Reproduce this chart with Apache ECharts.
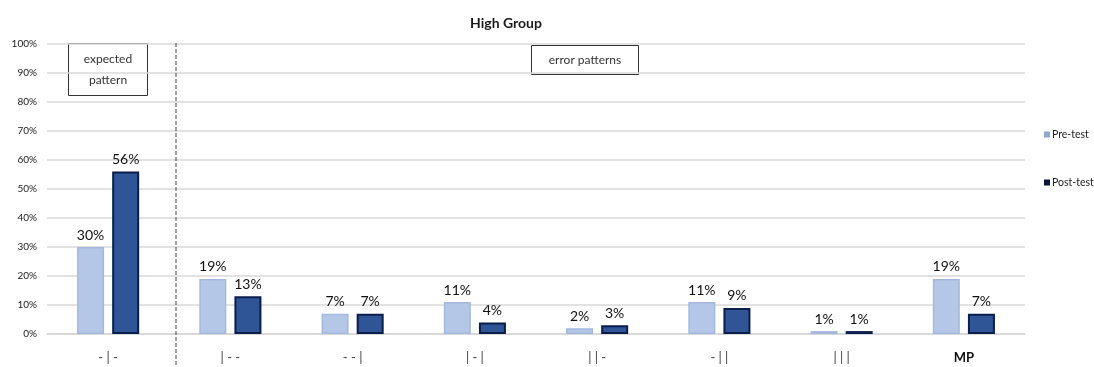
<!DOCTYPE html>
<html>
<head>
<meta charset="utf-8">
<script src="https://cdn.jsdelivr.net/npm/echarts@6/dist/echarts.min.js"></script>
<style>
  html, body { margin: 0; padding: 0; background: #fff; }
  #chart { width: 1094px; height: 367px; }
</style>
</head>
<body>
<div id="chart"></div>
<script>
// Answer patterns on the x axis; the first is the expected one
const categories = ['- | -', '| - -', '- - |', '| - |', '| | -', '- | |', '| | |', 'MP'];
// Share of answers per pattern, in percent
const preTest = [30, 19, 7, 11, 2, 11, 1, 19];
const postTest = [56, 13, 7, 4, 3, 9, 1, 7];
// Y axis ticks (percent)
const yMin = 0, yMax = 100, yStep = 10;

const FONT = 'Lato, "Open Sans", sans-serif';

const chart = echarts.init(document.getElementById('chart'), null, { renderer: 'canvas' });

const labelStyle = {
  show: true,
  position: 'top',
  distance: 5,
  formatter: '{c}%',
  fontFamily: FONT,
  fontSize: 14,
  color: '#111'
};

chart.setOption({
  animation: false,
  backgroundColor: '#ffffff',
  title: {
    text: 'High Group',
    left: 501,
    textAlign: 'center',
    top: 11,
    textStyle: { fontFamily: FONT, fontSize: 14, fontWeight: 'bold', color: '#1a1a1a' }
  },
  legend: {
    orient: 'vertical',
    left: 1039,
    top: 124,
    itemGap: 37,
    itemWidth: 6,
    itemHeight: 6,
    icon: 'rect',
    textStyle: { fontFamily: FONT, fontSize: 10.5, color: '#222', padding: [0, 0, 0, -3] },
    data: [
      { name: 'Pre-test', itemStyle: { color: '#8FA8D4', borderWidth: 0 } },
      { name: 'Post-test', itemStyle: { color: '#0B163D', borderWidth: 0 } }
    ]
  },
  grid: { left: 47, right: 69, top: 44, bottom: 33, containLabel: false },
  xAxis: {
    type: 'category',
    data: categories,
    axisLine: { show: true, lineStyle: { color: '#D6D6D6', width: 1.5 } },
    axisTick: { show: false },
    axisLabel: {
      margin: 17,
      fontFamily: FONT,
      fontSize: 13,
      color: '#404040',
      formatter: function (v) { return v === 'MP' ? '{b|MP}' : v; },
      rich: { b: { fontFamily: FONT, fontSize: 13, fontWeight: 'bold', color: '#111' } }
    }
  },
  yAxis: {
    type: 'value',
    min: yMin,
    max: yMax,
    interval: yStep,
    axisLine: { show: false },
    axisTick: { show: false },
    axisLabel: { formatter: '{value}%', fontFamily: FONT, fontSize: 10, color: '#222', margin: 10 },
    splitLine: { lineStyle: { color: '#D9D9D9', width: 1.5 } }
  },
  series: [
    {
      name: 'Pre-test',
      type: 'bar',
      data: preTest,
      barWidth: 27,
      barGap: '30%',
      itemStyle: { color: '#B4C7E7', borderColor: '#A3B8DE', borderWidth: 1.5 },
      label: labelStyle
    },
    {
      name: 'Post-test',
      type: 'bar',
      data: postTest,
      barWidth: 27,
      itemStyle: { color: '#2F5597', borderColor: '#0B1D4A', borderWidth: 2 },
      label: labelStyle
    }
  ],
  graphic: [
    // separator between the expected pattern and the error patterns
    {
      type: 'line',
      shape: { x1: 176, y1: 43, x2: 176, y2: 367 },
      style: { stroke: '#444', lineWidth: 1, lineDash: [4, 2] },
      z: 10
    },
    {
      type: 'group',
      left: 68,
      top: 43,
      z: 10,
      children: [
        { type: 'rect', shape: { x: 0, y: 0, width: 79, height: 52 }, style: { fill: '#fff', stroke: '#333', lineWidth: 1 } },
        { type: 'text', style: { x: 39.5, y: 26, text: 'expected\npattern', align: 'center', verticalAlign: 'middle', fontFamily: FONT, fontSize: 12, lineHeight: 21, fill: '#333' } }
      ]
    },
    {
      type: 'group',
      left: 531,
      top: 45,
      z: 10,
      children: [
        { type: 'rect', shape: { x: 0, y: 0, width: 107, height: 29 }, style: { fill: '#fff', stroke: '#333', lineWidth: 1 } },
        { type: 'text', style: { x: 53.5, y: 14.5, text: 'error patterns', align: 'center', verticalAlign: 'middle', fontFamily: FONT, fontSize: 12, fill: '#333' } }
      ]
    }
  ]
});
</script>
</body>
</html>
